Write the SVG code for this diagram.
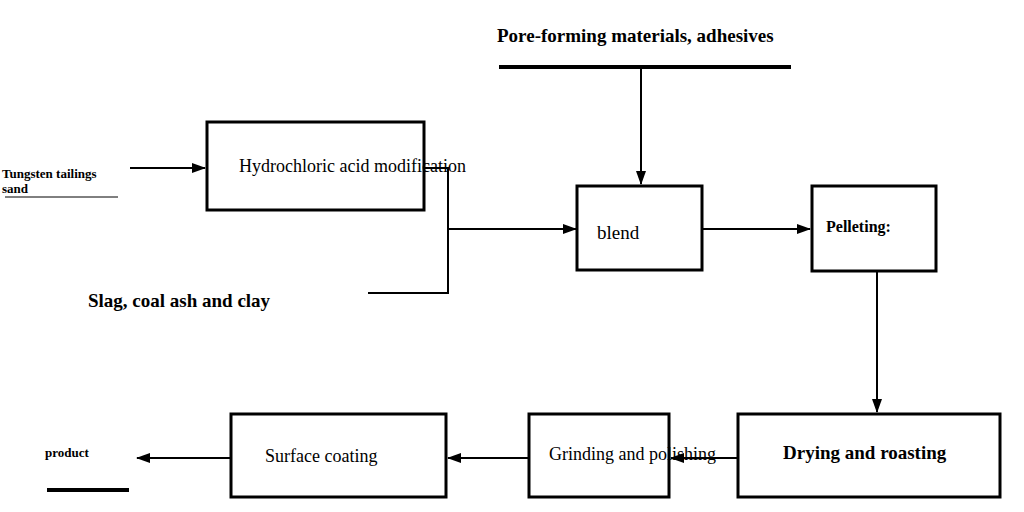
<svg xmlns="http://www.w3.org/2000/svg" width="1024" height="512" viewBox="0 0 1024 512">
<style>
.box{fill:#fff;stroke:#000;stroke-width:3}
.t{font-family:"Liberation Serif",serif;fill:#000}
.b{font-weight:bold}
.c{stroke:#000;stroke-width:2;fill:none}
</style>
<defs><marker id="a" markerWidth="14" markerHeight="10" refX="13" refY="5" orient="auto" markerUnits="userSpaceOnUse"><path d="M0,0L14,5L0,10Z" fill="#000"/></marker></defs>
<rect width="1024" height="512" fill="#fff"/>
<g id="pore"><text class="t b" x="497" y="42" font-size="19">Pore-forming materials, adhesives</text><line x1="499" y1="67" x2="791" y2="67" stroke="#000" stroke-width="4"/></g>
<g id="tungsten"><text class="t b" x="2" y="178" font-size="13">Tungsten tailings</text><text class="t b" x="2" y="193" font-size="13">sand</text><line x1="5" y1="197" x2="118" y2="197" stroke="#000" stroke-width="1"/></g>
<g id="slag"><text class="t b" x="88" y="307" font-size="19">Slag, coal ash and clay</text></g>
<g id="product"><text class="t b" x="45" y="457" font-size="13">product</text><line x1="47" y1="490" x2="129" y2="490" stroke="#000" stroke-width="4"/></g>
<g id="hcl"><rect class="box" x="207" y="122" width="217" height="88"/><text class="t" x="239" y="172" font-size="18">Hydrochloric acid modification</text></g>
<g id="blend"><rect class="box" x="577" y="186" width="125" height="84"/><text class="t" x="597" y="239" font-size="19">blend</text></g>
<g id="pellet"><rect class="box" x="812" y="186" width="124" height="85"/><text class="t b" x="826" y="232" font-size="16">Pelleting:</text></g>
<g id="dry"><rect class="box" x="738" y="414" width="262" height="83"/><text class="t b" x="783" y="459" font-size="19">Drying and roasting</text></g>
<g id="grind"><rect class="box" x="529" y="414" width="140" height="83"/><text class="t" x="549" y="460" font-size="18">Grinding and polishing</text></g>
<g id="surface"><rect class="box" x="231" y="414" width="215" height="83"/><text class="t" x="265" y="462" font-size="18">Surface coating</text></g>
<g id="connectors">
<line class="c" x1="641" y1="67" x2="641" y2="184" marker-end="url(#a)"/>
<line class="c" x1="130" y1="168" x2="205" y2="168" marker-end="url(#a)"/>
<polyline class="c" points="424,168 448,168 448,293 368,293"/>
<line class="c" x1="448" y1="229" x2="576" y2="229" marker-end="url(#a)"/>
<line class="c" x1="702" y1="229" x2="810" y2="229" marker-end="url(#a)"/>
<line class="c" x1="877" y1="271" x2="877" y2="412" marker-end="url(#a)"/>
<line class="c" x1="738" y1="458" x2="671" y2="458" marker-end="url(#a)"/>
<line class="c" x1="529" y1="458" x2="448" y2="458" marker-end="url(#a)"/>
<line class="c" x1="231" y1="458" x2="137" y2="458" marker-end="url(#a)"/>
</g>
</svg>
